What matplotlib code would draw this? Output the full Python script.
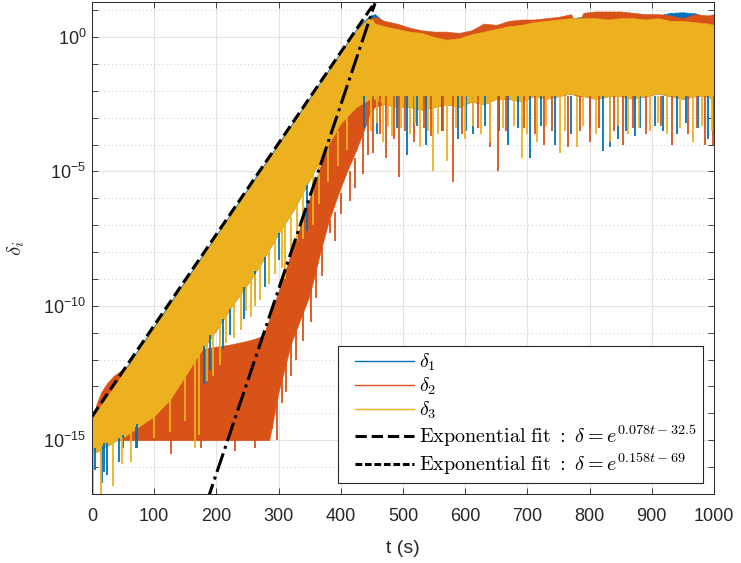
import numpy as np
import matplotlib
matplotlib.use("Agg")
import matplotlib.pyplot as plt
from matplotlib.lines import Line2D
from matplotlib.legend_handler import HandlerLine2D
from matplotlib.ticker import FixedLocator, FuncFormatter, NullFormatter
from matplotlib.font_manager import FontProperties

plt.rcParams['font.family'] = 'Liberation Sans'
plt.rcParams['mathtext.fontset'] = 'custom'
plt.rcParams['mathtext.rm'] = 'Liberation Sans'
plt.rcParams['mathtext.it'] = 'Liberation Sans:italic'

# envelopes of the three signals, stored as log10(delta)
t_d1 = [0, 10, 25, 40, 50, 75, 100, 125, 150, 175, 200, 225, 250, 275, 300, 325, 350, 375, 400, 425, 440, 447,
        455, 470, 490, 510, 530, 550, 570, 590, 610, 630, 650, 670, 690, 710, 730, 750, 770, 790, 810, 830, 850,
        870, 890, 910, 930, 950, 970, 990, 1000]
hi_d1 = [-14.15, -13.8, -13.3, -12.8, -12.45, -11.6, -10.75, -9.9, -9.05, -8.2, -7.35, -6.5, -5.65, -4.8, -3.95,
         -3.1, -2.25, -1.4, -0.55, 0.3, 0.65, 0.8,
         0.85, 0.55, 0.4, 0.3, 0.15, 0.05, 0.0, 0.0, 0.1, 0.3, 0.35, 0.45, 0.5, 0.55, 0.6, 0.65, 0.7, 0.75, 0.75,
         0.75, 0.75, 0.75, 0.75, 0.8, 0.9, 0.92, 0.88, 0.7, 0.7]
lo_d1 = [-15.5, -15.4, -15.2, -15.0, -14.9, -14.5, -14.1, -13.5, -12.6, -11.7, -10.9, -10.0, -9.2, -8.3, -7.3,
         -6.4, -5.3, -4.2, -3.2, -2.6, -2.4, -2.3,
         -2.3, -2.5, -2.6, -2.6, -2.7, -2.6, -2.5, -2.6, -2.4, -2.5, -2.3, -2.3, -2.4, -2.2, -2.3, -2.2, -2.1,
         -2.2, -2.3, -2.2, -2.2, -2.3, -2.2, -2.1, -2.2, -2.3, -2.2, -2.2, -2.4]

t_d2 = [0, 8, 15, 25, 35, 50, 65, 80, 100, 130, 160, 190, 220, 250, 265, 275, 285, 295, 300, 320, 335, 350, 365,
        380, 395, 410, 425, 440, 447, 455, 470, 490, 510, 530, 550, 570, 590, 610, 630, 650, 670, 690, 710, 730,
        750, 770, 780, 790, 810, 830, 850, 870, 890, 910, 930, 950, 970, 990, 1000]
hi_d2 = [-14.2, -13.6, -13.2, -12.85, -12.6, -12.35, -12.15, -12.05, -11.95, -11.8, -11.65, -11.55, -11.45, -11.3,
         -11.2, -11.1, -10.5, -9.8, -9.45, -8.05, -7.05, -6.0, -4.95, -3.95, -2.9, -1.85, -0.85, 0.2, 0.65,
         0.75, 0.6, 0.5, 0.35, 0.25, 0.2, 0.2, 0.15, 0.25, 0.5, 0.45, 0.6, 0.65, 0.65, 0.7, 0.75, 0.85, 0.45, 0.9,
         0.95, 0.95, 0.95, 0.9, 0.85, 0.85, 0.8, 0.7, 0.85, 0.8, 0.85]
lo_d2 = [-15.0, -15.0, -15.0, -15.0, -15.0, -15.0, -15.0, -15.0, -15.0, -15.0, -15.0, -15.0, -15.0, -15.0,
         -15.0, -15.0, -15.0, -13.8, -13.2, -11.4, -10.5, -9.6, -8.2, -6.9, -5.9, -5.0, -4.2, -3.3, -2.8,
         -2.6, -2.5, -2.6, -2.6, -2.7, -2.6, -2.5, -2.6, -2.4, -2.5, -2.3, -2.3, -2.4, -2.2, -2.3, -2.2, -2.1,
         -2.2, -2.2, -2.3, -2.2, -2.2, -2.3, -2.2, -2.1, -2.2, -2.3, -2.2, -2.2, -2.4]

t_d3 = t_d1
hi_d3 = [-14.2, -13.85, -13.35, -12.85, -12.5, -11.65, -10.8, -9.95, -9.1, -8.25, -7.4, -6.55, -5.7, -4.85, -4.0,
         -3.15, -2.3, -1.45, -0.6, 0.25, 0.6, 0.75,
         0.5, 0.4, 0.3, 0.2, 0.15, 0.0, -0.1, -0.05, 0.1, 0.2, 0.3, 0.4, 0.45, 0.55, 0.6, 0.65, 0.7, 0.7, 0.7,
         0.65, 0.7, 0.7, 0.65, 0.7, 0.6, 0.6, 0.55, 0.5, 0.45]
lo_d3 = lo_d1

# isolated excursions: time, bottom, top (log10)
sp_t_d1 = [5, 16, 20, 24, 44, 50, 70, 73, 180, 190, 210, 222, 245, 262, 278, 300, 345,
           437, 458, 490, 507, 522, 537, 562, 589, 602, 613, 632, 655, 669, 685, 704, 722, 744, 770, 800, 822,
           833, 845, 858, 873, 881, 905, 918, 940, 955, 975, 990, 1000]
sp_lo_d1 = [-16.1, -16.6, -16.2, -16.3, -15.8, -15.3, -15.3, -15.3, -12.9, -12.4, -11.6, -11.1, -10.5, -9.8,
            -9.3, -8.3, -7.2,
            -3.4, -3.6, -3.4, -4.4, -3.3, -4.0, -3.5, -3.8, -3.5, -3.6, -3.3, -3.5, -4.0, -3.4, -4.5, -3.3,
            -4.0, -3.6, -3.4, -4.25, -4.1, -3.8, -3.5, -3.7, -3.4, -3.3, -3.5, -3.6, -3.2, -3.4, -3.8, -3.7]
sp_hi_d1 = [-15.3, -15.2, -15.1, -15.1, -14.9, -14.8, -14.5, -14.4, -11.5, -11.1, -10.5, -10.1, -9.3, -8.7,
            -8.2, -7.3, -5.5] + [-2.2] * 32

sp_t_d2 = [127, 175, 230, 262, 282, 290, 297, 305, 312, 320, 328, 340, 352, 360, 370, 383, 391, 400, 415, 423,
           436, 443,
           452, 463, 472, 485, 494, 503, 518, 533, 545, 565, 580, 595, 620, 640, 653, 665, 695, 712, 726, 740,
           766, 785, 800, 815, 840, 854, 870, 890, 915, 932, 959, 972, 985, 998]
sp_lo_d2 = [-15.5, -15.3, -15.4, -15.3, -15.0, -14.6, -15.0, -13.6, -13.2, -12.6, -12.0, -11.3, -10.6, -9.7,
            -8.9, -7.3, -7.6, -6.6, -6.1, -5.6, -5.1, -4.4,
            -4.3, -3.6, -4.5, -3.8, -5.2, -3.5, -3.9, -3.4, -3.7, -3.5, -5.4, -3.6, -3.4, -4.1, -5.0, -3.5, -3.4,
            -3.6, -4.0, -3.5, -4.1, -3.5, -3.9, -3.4, -3.5, -4.0, -3.4, -3.6, -3.3, -4.0, -3.6, -3.4, -4.0, -4.0]
sp_hi_d2 = [-15.0, -15.0, -15.0, -15.0, -12.0, -12.5, -12.2, -12.0, -11.5, -11.0, -10.5, -10.0, -9.2, -8.6,
            -7.8, -6.8, -6.5, -5.8, -5.0, -4.5, -3.6, -3.0] + [-2.2] * 34

sp_t_d3 = [2, 15, 33, 48, 63, 100, 125, 150, 165, 172, 185, 195, 205, 215, 228, 240, 248, 255, 262, 270, 285,
           295, 305, 310, 320, 330, 340, 355, 365, 380, 395, 410,
           449, 458, 468, 476, 482, 497, 512, 520, 527, 540, 548, 556, 570, 585, 600, 612, 625, 640, 660, 678,
           691, 700, 715, 730, 752, 760, 779, 790, 810, 832, 845, 862, 880, 897, 910, 925, 945, 967, 980, 997]
sp_lo_d3 = [-17.0, -17.0, -16.7, -15.9, -15.8, -14.9, -14.7, -14.3, -15.3, -14.8, -12.8, -12.6, -12.2, -11.4,
            -11.2, -10.9, -10.2, -10.4, -10.0, -9.8, -9.2, -8.8, -8.6, -9.0, -8.0, -7.6, -7.5, -7.0, -6.2, -5.4,
            -4.8, -4.2,
            -3.5, -3.2, -3.9, -3.3, -3.7, -3.4, -3.6, -3.2, -4.1, -3.5, -5.0, -3.6, -4.6, -3.4, -3.8, -3.3, -3.6,
            -3.9, -3.4, -3.3, -4.5, -3.6, -3.9, -3.3, -4.3, -3.5, -4.1, -3.3, -3.6, -3.9, -3.3, -3.6, -3.4, -3.5,
            -3.2, -3.6, -3.4, -3.9, -3.3, -3.5]
sp_hi_d3 = [-15.4, -15.2, -15.1, -14.9, -14.6, -14.0, -13.4, -12.5, -12.1, -11.8, -11.3, -11.0, -10.7, -10.3,
            -9.9, -9.5, -9.2, -9.0, -8.8, -8.5, -7.9, -7.5, -7.1, -6.9, -6.7, -6.2, -5.7, -5.1, -4.7, -4.1,
            -3.5, -3.0] + [-2.2] * 40

# exponential fits delta = exp(a*t + b)
fit1 = (0.078, -32.5)
fit2 = (0.158, -69.0)
t_fit_end = 455

c1, c2, c3 = '#0072BD', '#D95319', '#EDB120'
ink = '#262626'


class InsetLine(HandlerLine2D):
    # legend line that leaves some room on its left, like a MATLAB legend
    def get_xdata(self, legend, xdescent, ydescent, width, height, fontsize):
        xd, xm = super().get_xdata(legend, xdescent, ydescent, width, height, fontsize)
        xd = np.asarray(xd, float)
        x0, x1 = xd.min(), xd.max()
        lead = 0.16 * (x1 - x0)
        return x0 + lead + (xd - x0) * (x1 - x0 - lead) / (x1 - x0), xm


fig = plt.figure(figsize=(7.41, 5.63), dpi=100)
ax = fig.add_axes([92 / 741, 1 - 494 / 563, (714 - 92) / 741, (494 - 2) / 563])

series = [
    (t_d1, hi_d1, lo_d1, sp_t_d1, sp_lo_d1, sp_hi_d1, c1),
    (t_d2, hi_d2, lo_d2, sp_t_d2, sp_lo_d2, sp_hi_d2, c2),
    (t_d3, hi_d3, lo_d3, sp_t_d3, sp_lo_d3, sp_hi_d3, c3),
]
for t, hi, lo, st, slo, shi, col in series:
    ax.fill_between(t, 10.0 ** np.array(lo), 10.0 ** np.array(hi), color=col, lw=0.4, ec=col)
    ax.vlines(st, 10.0 ** np.array(slo), 10.0 ** np.array(shi), color=col, lw=1.3)

tf = np.linspace(0, t_fit_end, 400)
ax.plot(tf, np.exp(fit1[0] * tf + fit1[1]), '--', color='k', lw=2.2)
ax.plot(tf, np.exp(fit2[0] * tf + fit2[1]), '-.', color='k', lw=2.2)

ax.set_yscale('log')
ax.set_xlim(0, 1000)
ax.set_ylim(1e-17, 20)
ax.set_xticks(np.arange(0, 1001, 100))
ax.yaxis.set_major_locator(FixedLocator([1e-15, 1e-10, 1e-5, 1e0]))
ax.yaxis.set_minor_locator(FixedLocator(10.0 ** np.arange(-17, 2)))
ax.yaxis.set_minor_formatter(NullFormatter())
ax.yaxis.set_major_formatter(FuncFormatter(
    lambda v, p: r'$\mathregular{10^{%d}}$' % int(round(np.log10(v)))))

ax.set_axisbelow(True)
ax.grid(True, which='major', color='#e3e3e3', lw=0.8)
ax.grid(True, which='minor', axis='y', color='#c8c8c8', lw=0.7, ls=(0, (1, 3)))
ax.tick_params(which='both', direction='in', top=True, right=True, colors=ink,
               labelsize=13, length=4, width=0.6)
ax.tick_params(axis='x', pad=10)
ax.tick_params(axis='y', pad=4)
for s in ax.spines.values():
    s.set_color(ink)
    s.set_linewidth(0.7)

ax.set_xlabel('t (s)', fontsize=14, color=ink, labelpad=11)
ax.set_ylabel(r'$\delta_i$', fontsize=15, color=ink, math_fontfamily='cm')
ax.yaxis.set_label_coords(-0.105, 0.5)

handles = [
    Line2D([], [], color=c1, lw=1),
    Line2D([], [], color=c2, lw=1),
    Line2D([], [], color=c3, lw=1),
    Line2D([], [], color='k', lw=2.2, ls='--'),
    Line2D([], [], color='k', lw=2.2, ls=(0, (2.2, 0.9))),
]
labels = [
    r'$\delta_1$',
    r'$\delta_2$',
    r'$\delta_3$',
    r'$\mathrm{Exponential\ fit\ :}\ \delta = e^{%.3ft%+.1f}$' % fit1,
    r'$\mathrm{Exponential\ fit\ :}\ \delta = e^{%.3ft%+d}$' % (fit2[0], fit2[1]),
]
leg = ax.legend(handles, labels, loc='lower right', prop=FontProperties(size=14.5, math_fontfamily='cm'),
                frameon=True, fancybox=False, framealpha=1, edgecolor=ink, borderaxespad=0.55,
                handlelength=3.5, handletextpad=0.25, labelspacing=0.12, borderpad=0.3,
                handler_map={Line2D: InsetLine()})
leg.get_frame().set_linewidth(0.8)

fig.savefig('out.png', dpi=100)
